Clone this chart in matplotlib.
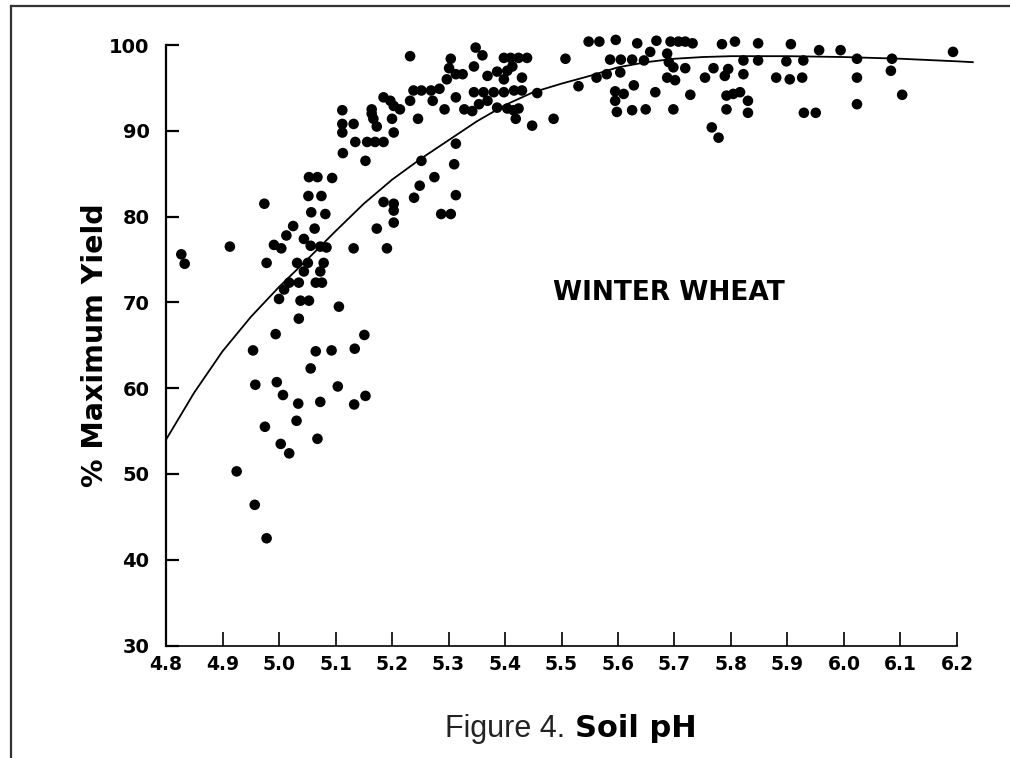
import matplotlib
matplotlib.use("Agg")
import matplotlib.pyplot as plt
from matplotlib.lines import Line2D

# soil pH / % max yield
ph = [4.827, 4.833, 4.913, 4.978, 4.925, 4.957, 4.978, 4.954, 4.958, 4.975,
      4.994, 4.996, 5.007, 5.034, 5.031, 5.003, 5.018, 5.035, 5.065, 5.056,
      5.093, 5.068, 5.073, 5.104, 5.134, 5.151, 5.133, 5.153, 5.106, 5.038,
      5.053, 5.000, 5.018, 5.035, 5.065, 5.076, 5.009, 5.032, 5.051, 5.079,
      5.044, 5.073, 4.991, 5.004, 5.056, 5.073, 5.084, 5.132, 5.191, 5.173,
      5.013, 5.025, 5.044, 5.063, 5.057, 5.082, 5.052, 5.075, 5.053, 5.068,
      5.094, 4.974, 5.185, 5.203, 5.203, 5.203,
      5.112, 5.164, 5.185, 5.112, 5.132, 5.167, 5.173, 5.112, 5.135, 5.156,
      5.170, 5.185, 5.113, 5.153, 5.164, 5.200, 5.203, 5.197, 5.203, 5.214,
      5.232, 5.348, 5.360, 5.304, 5.398, 5.410, 5.424, 5.439, 5.345, 5.301,
      5.313, 5.325, 5.297, 5.369, 5.386, 5.404, 5.413, 5.430, 5.398,
      5.238, 5.252, 5.269, 5.284, 5.232, 5.272, 5.313,
      5.345, 5.362, 5.380, 5.398, 5.416, 5.430, 5.354, 5.369,
      5.328, 5.342, 5.386, 5.404, 5.415, 5.424, 5.419, 5.448, 5.246, 5.293,
      5.313, 5.252, 5.310, 5.275, 5.249, 5.239, 5.313, 5.287, 5.304,
      5.457, 5.486, 5.507,
      5.548, 5.567, 5.596, 5.634, 5.668, 5.693, 5.707, 5.719, 5.732,
      5.784, 5.807, 5.848, 5.906, 5.956, 5.994, 6.193,
      5.586, 5.605, 5.625, 5.657, 5.646, 5.687, 5.690, 5.698, 5.719,
      5.769, 5.795, 5.687, 5.701, 5.754, 5.789, 5.562, 5.580, 5.604,
      5.530, 5.628, 5.595, 5.610, 5.666, 5.728, 5.595,
      5.598, 5.625, 5.649, 5.698, 5.792, 5.804, 5.816, 5.792, 5.766, 5.778,
      5.822, 5.848, 5.898, 5.928, 6.023, 6.085,
      5.822, 5.880, 5.904, 5.926, 6.023, 6.083,
      5.830, 5.830, 5.929, 5.950, 6.023, 6.103]
yld = [75.6, 74.5, 76.5, 74.6, 50.3, 46.4, 42.5, 64.4, 60.4, 55.5,
       66.3, 60.7, 59.2, 58.2, 56.2, 53.5, 52.4, 68.1, 64.3, 62.3,
       64.4, 54.1, 58.4, 60.2, 64.6, 66.2, 58.1, 59.1, 69.5, 70.2,
       70.2, 70.4, 72.3, 72.3, 72.3, 72.3, 71.5, 74.6, 74.6, 74.6,
       73.6, 73.6, 76.7, 76.3, 76.6, 76.5, 76.4, 76.3, 76.3, 78.6,
       77.8, 78.9, 77.4, 78.6, 80.5, 80.3, 82.4, 82.4, 84.6, 84.6,
       84.5, 81.5, 81.7, 81.5, 80.7, 79.3,
       92.4, 92.5, 93.9, 90.8, 90.8, 91.4, 90.5, 89.8, 88.7, 88.7,
       88.7, 88.7, 87.4, 86.5, 92.0, 91.4, 89.8, 93.5, 92.9, 92.5,
       98.7, 99.7, 98.8, 98.4, 98.5, 98.5, 98.5, 98.5, 97.5, 97.3,
       96.6, 96.6, 96.0, 96.4, 96.9, 97.0, 97.5, 96.2, 96.0,
       94.7, 94.7, 94.7, 94.9, 93.5, 93.5, 93.9,
       94.5, 94.5, 94.5, 94.5, 94.7, 94.7, 93.1, 93.5,
       92.5, 92.3, 92.7, 92.6, 92.4, 92.6, 91.4, 90.6, 91.4, 92.5,
       88.5, 86.5, 86.1, 84.6, 83.6, 82.2, 82.5, 80.3, 80.3,
       94.4, 91.4, 98.4,
       100.4, 100.4, 100.6, 100.2, 100.5, 100.4, 100.4, 100.4, 100.2,
       100.1, 100.4, 100.2, 100.1, 99.4, 99.4, 99.2,
       98.3, 98.3, 98.3, 99.2, 98.2, 99.0, 98.0, 97.4, 97.3,
       97.3, 97.2, 96.2, 95.9, 96.2, 96.4, 96.2, 96.6, 96.8,
       95.2, 95.3, 94.6, 94.3, 94.5, 94.2, 93.5,
       92.2, 92.4, 92.5, 92.5, 94.1, 94.3, 94.5, 92.5, 90.4, 89.2,
       98.2, 98.2, 98.1, 98.2, 98.4, 98.4,
       96.6, 96.2, 96.0, 96.2, 96.2, 97.0,
       93.5, 92.1, 92.1, 92.1, 93.1, 94.2]

# fitted curve, read at intervals
curve_ph = [4.80, 4.85, 4.90, 4.95, 5.00, 5.05, 5.10, 5.15, 5.20, 5.25,
            5.30, 5.35, 5.40, 5.45, 5.50, 5.55, 5.60, 5.65, 5.70, 5.75,
            5.80, 5.90, 6.00, 6.10, 6.20, 6.228]
curve_yld = [54.0, 59.5, 64.3, 68.3, 71.8, 75.0, 78.3, 81.5, 84.3, 86.7,
             88.9, 91.1, 93.0, 94.5, 95.5, 96.4, 97.4, 98.0, 98.4, 98.6,
             98.7, 98.7, 98.6, 98.4, 98.1, 98.0]

xticks = [4.8, 4.9, 5.0, 5.1, 5.2, 5.3, 5.4, 5.5, 5.6, 5.7, 5.8, 5.9, 6.0, 6.1, 6.2]
yticks = [30, 40, 50, 60, 70, 80, 90, 100]

fig = plt.figure(figsize=(10.1, 7.58), dpi=100)
ax = fig.add_axes([0.1644, 0.1484, 0.7831, 0.7922])

ax.scatter(ph, yld, s=58, color="black", edgecolors="none", clip_on=False, zorder=3)
ax.plot(curve_ph, curve_yld, color="black", lw=1.3, clip_on=False)

ax.set_xlim(4.8, 6.2)
ax.set_ylim(30, 100)
ax.set_xticks(xticks)
ax.set_xticklabels(["%.1f" % t for t in xticks])
ax.set_yticks(yticks)

ax.spines["top"].set_visible(False)
ax.spines["right"].set_visible(False)
ax.spines["left"].set_linewidth(1.6)
ax.spines["bottom"].set_linewidth(1.2)
ax.tick_params(axis="y", direction="in", length=9, width=1.6, pad=12,
               labelsize=14)
ax.tick_params(axis="x", direction="in", length=10, width=1.2, pad=7,
               labelsize=13.5)
for lab in ax.get_xticklabels() + ax.get_yticklabels():
    lab.set_fontweight("bold")

ax.set_ylabel("% Maximum Yield", fontsize=20.5, fontweight="bold", va="center")
ax.yaxis.set_label_coords(-0.09, 0.5)

ax.text(5.69, 71.1, "WINTER WHEAT", fontsize=19, fontweight="bold",
        ha="center", va="center")

fig.text(565 / 1010, 1 - 737 / 758, "Figure 4.", fontsize=22, color="#222222",
         family="Liberation Sans", ha="right", va="baseline")
fig.text(575 / 1010, 1 - 737 / 758, "Soil pH", fontsize=22,
         fontweight="bold", ha="left", va="baseline")

# frame around the page (only top and left edges show)
fig.add_artist(Line2D([0.0109, 0.0109], [0.0, 0.992], color="#333333", lw=1.6))
fig.add_artist(Line2D([0.0109, 1.0], [0.992, 0.992], color="#333333", lw=1.6))

fig.savefig("out.png", dpi=100)
